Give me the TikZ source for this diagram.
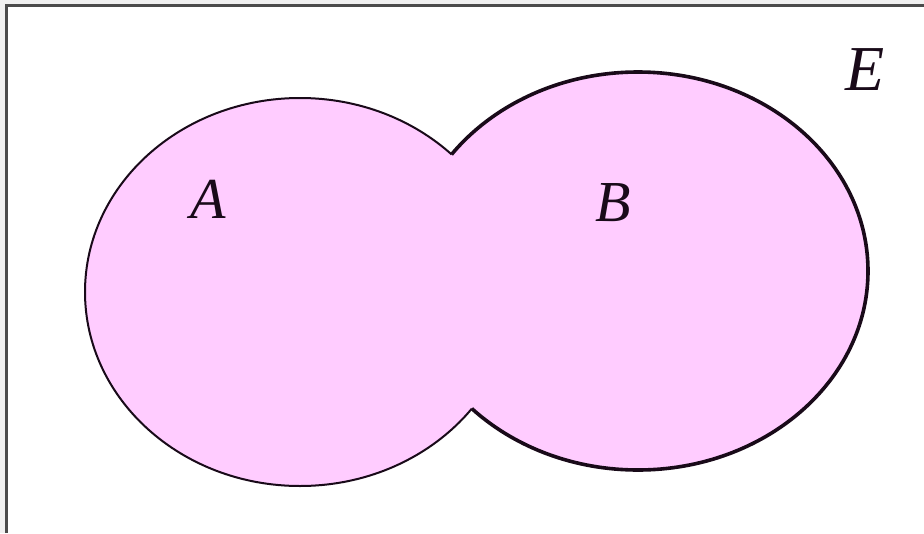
\documentclass[tikz,border=0pt]{standalone}
\usepackage{fontspec}
\setmainfont{Liberation Serif}
\definecolor{setpink}{RGB}{255,204,255}
\definecolor{framegray}{RGB}{75,75,75}
\definecolor{outsidegray}{RGB}{240,240,240}
\definecolor{edgedark}{RGB}{25,10,25}
\tikzset{
  setlabel/.style={font=\fontsize{58}{60}\selectfont\itshape, inner sep=0pt, text=edgedark},
  thinedge/.style={draw=edgedark, line width=2pt},
  thickedge/.style={draw=edgedark, line width=3.6pt},
}
\begin{document}
\begin{tikzpicture}[x=1pt,y=-1pt]
\useasboundingbox (0,0) rectangle (924,533);
% outside strips and frame
\fill[outsidegray] (0,0) rectangle (924,533);
\fill[white] (7,6) rectangle (924,533);
\draw[framegray, line width=3pt] (6.5,533) -- (6.5,5.5) -- (924,5.5);
% fill union
\fill[setpink] (300,292) ellipse [x radius=215, y radius=194];
\fill[setpink] (638,271) ellipse [x radius=230, y radius=199];
% outline of A outside B
\begin{scope}[even odd rule]
  \clip (0,0) rectangle (924,533) (638,271) ellipse [x radius=230, y radius=199];
  \draw[thinedge] (300,292) ellipse [x radius=215, y radius=194];
\end{scope}
% outline of B outside A
\begin{scope}[even odd rule]
  \clip (0,0) rectangle (924,533) (300,292) ellipse [x radius=215, y radius=194];
  \draw[thickedge] (638,271) ellipse [x radius=230, y radius=199];
\end{scope}
\node[setlabel] (la) at (208,199) {A};
\node[setlabel] (lb) at (613,203) {B};
\node[setlabel, font=\fontsize{64}{66}\selectfont\itshape] (le) at (865,70) {E};
\end{tikzpicture}
\end{document}
